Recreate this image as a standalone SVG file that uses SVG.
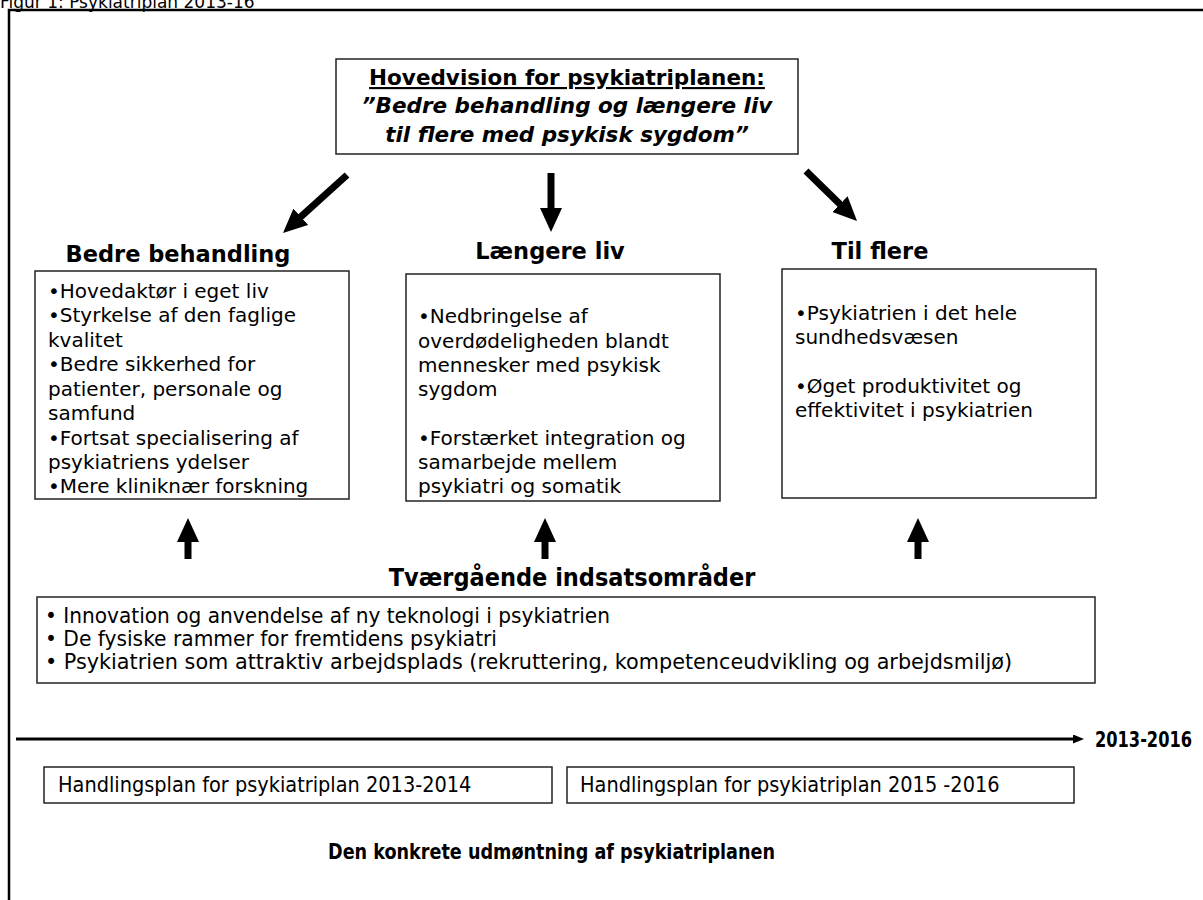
<svg xmlns="http://www.w3.org/2000/svg" width="1203" height="900" viewBox="0 0 1203 900">
<style>
.box{fill:#fff;stroke:#222;stroke-width:1.5}
.t{font-family:"DejaVu Sans",Verdana,sans-serif;font-size:20px;fill:#000}
.h{font-family:"DejaVu Sans",Verdana,sans-serif;font-size:21.5px;font-weight:bold;fill:#000}
.hc{font-family:"DejaVu Sans",Verdana,sans-serif;font-size:22.5px;font-weight:bold;fill:#000}
.c{font-family:"DejaVu Sans Condensed","DejaVu Sans",sans-serif;font-size:21.5px;fill:#000}
.cb{font-family:"DejaVu Sans Condensed","DejaVu Sans",sans-serif;font-size:21px;font-weight:bold;fill:#000}
.arr{stroke:#000;stroke-width:7;fill:none}
</style>
<defs>
<marker id="head" markerUnits="userSpaceOnUse" markerWidth="24" markerHeight="22" refX="2" refY="11" orient="auto" viewBox="0 0 24 22">
<path d="M0,0 L24,11 L0,22 z" fill="#000"/>
</marker>
<marker id="small" markerUnits="userSpaceOnUse" markerWidth="11" markerHeight="9" refX="1" refY="4.5" orient="auto" viewBox="0 0 11 9">
<path d="M0,0 L11,4.5 L0,9 z" fill="#000"/>
</marker>
</defs>
<rect width="1203" height="900" fill="#fff"/>
<text class="t" x="0" y="8" style="font-size:17px">Figur 1: Psykiatriplan 2013-16</text>
<path d="M9,900 V10 H1203" fill="none" stroke="#000" stroke-width="2.5"/>

<g id="vision">
<rect class="box" x="336" y="59" width="462" height="95"/>
<text class="h" x="567" y="85" text-anchor="middle" text-decoration="underline">Hovedvision for psykiatriplanen:</text>
<text class="h" x="567" y="113" text-anchor="middle" font-style="italic">”Bedre behandling og længere liv</text>
<text class="h" x="567" y="142" text-anchor="middle" font-style="italic">til flere med psykisk sygdom”</text>
</g>

<g id="connectors">
<line class="arr" x1="347" y1="175" x2="299.3" y2="218.2" marker-end="url(#head)"/>
<line class="arr" x1="551" y1="173" x2="551" y2="210" marker-end="url(#head)"/>
<line class="arr" x1="806" y1="171" x2="841.3" y2="205.6" marker-end="url(#head)"/>
<line class="arr" x1="188" y1="559" x2="188" y2="540" marker-end="url(#head)"/>
<line class="arr" x1="545" y1="559" x2="545" y2="540" marker-end="url(#head)"/>
<line class="arr" x1="918" y1="559" x2="918" y2="540" marker-end="url(#head)"/>
<line x1="16" y1="739" x2="1074" y2="739" stroke="#000" stroke-width="3" marker-end="url(#small)"/>
</g>

<g id="bedre">
<text class="hc" x="178" y="262" text-anchor="middle">Bedre behandling</text>
<rect class="box" x="35" y="271" width="314" height="228"/>
<text class="t" x="48" y="298">•Hovedaktør i eget liv</text>
<text class="t" x="48" y="322">•Styrkelse af den faglige</text>
<text class="t" x="48" y="347">kvalitet</text>
<text class="t" x="48" y="371">•Bedre sikkerhed for</text>
<text class="t" x="48" y="396">patienter, personale og</text>
<text class="t" x="48" y="420">samfund</text>
<text class="t" x="48" y="445">•Fortsat specialisering af</text>
<text class="t" x="48" y="469">psykiatriens ydelser</text>
<text class="t" x="48" y="493">•Mere kliniknær forskning</text>
</g>

<g id="laengere">
<text class="hc" x="550" y="259" text-anchor="middle">Længere liv</text>
<rect class="box" x="406" y="274" width="314" height="227"/>
<text class="t" x="418" y="323">•Nedbringelse af</text>
<text class="t" x="418" y="348">overdødeligheden blandt</text>
<text class="t" x="418" y="372">mennesker med psykisk</text>
<text class="t" x="418" y="396">sygdom</text>
<text class="t" x="418" y="445">•Forstærket integration og</text>
<text class="t" x="418" y="469">samarbejde mellem</text>
<text class="t" x="418" y="493">psykiatri og somatik</text>
</g>

<g id="flere">
<text class="hc" x="880" y="259" text-anchor="middle">Til flere</text>
<rect class="box" x="782" y="269" width="314" height="229"/>
<text class="t" x="795" y="320">•Psykiatrien i det hele</text>
<text class="t" x="795" y="344">sundhedsvæsen</text>
<text class="t" x="795" y="393">•Øget produktivitet og</text>
<text class="t" x="795" y="417">effektivitet i psykiatrien</text>
</g>

<g id="tvaergaaende">
<text class="cb" x="572" y="586" text-anchor="middle" style="font-size:25px">Tværgående indsatsområder</text>
<rect class="box" x="37" y="597" width="1058" height="86"/>
<text class="c" x="45" y="623" textLength="565" lengthAdjust="spacingAndGlyphs">• Innovation og anvendelse af ny teknologi i psykiatrien</text>
<text class="c" x="45" y="646" textLength="452" lengthAdjust="spacingAndGlyphs">• De fysiske rammer for fremtidens psykiatri</text>
<text class="c" x="45" y="669" textLength="967" lengthAdjust="spacingAndGlyphs">• Psykiatrien som attraktiv arbejdsplads (rekruttering, kompetenceudvikling og arbejdsmiljø)</text>
</g>

<g id="periode">
<text class="cb" x="1095" y="747" textLength="97" lengthAdjust="spacingAndGlyphs">2013-2016</text>
</g>

<g id="hp1">
<rect class="box" x="44" y="767" width="508" height="36"/>
<text class="c" x="58" y="792">Handlingsplan for psykiatriplan 2013-2014</text>
</g>
<g id="hp2">
<rect class="box" x="567" y="767" width="507" height="36"/>
<text class="c" x="580" y="792">Handlingsplan for psykiatriplan 2015 -2016</text>
</g>

<g id="udmoentning">
<text class="cb" x="328" y="859" style="font-size:22px" textLength="447" lengthAdjust="spacingAndGlyphs">Den konkrete udmøntning af psykiatriplanen</text>
</g>
</svg>
